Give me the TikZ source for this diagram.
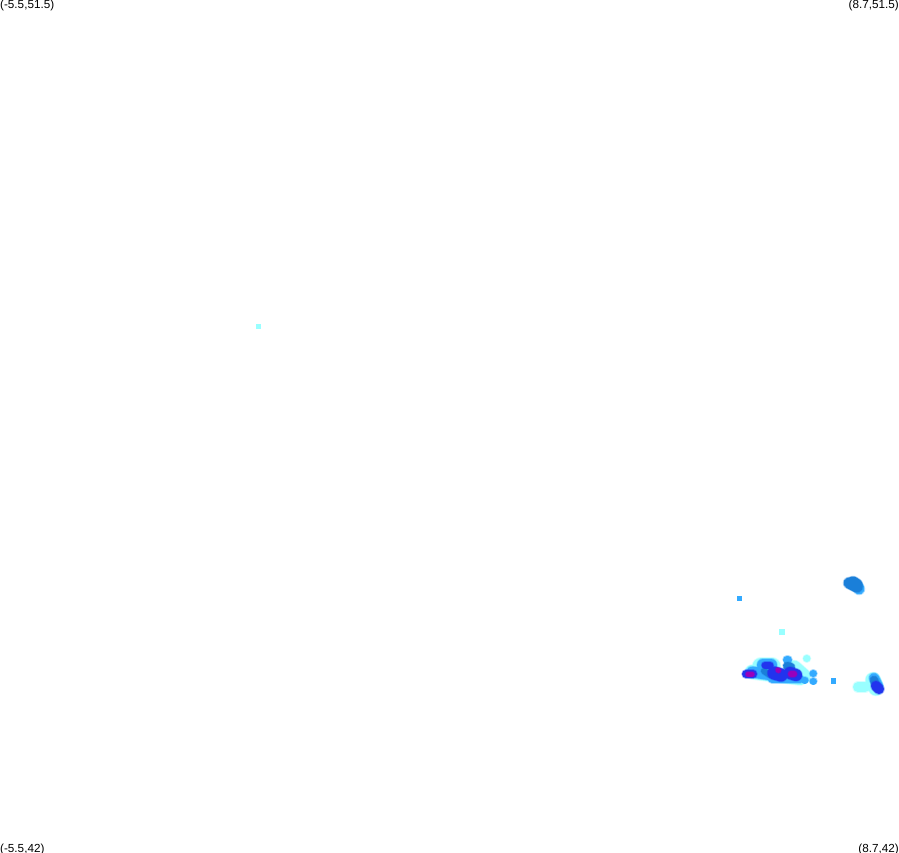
\documentclass[tikz,border=0pt]{standalone}
\usepackage{fontspec}
\setmainfont{Liberation Sans}
\definecolor{palecyan}{HTML}{99FFFF}
\definecolor{skyblue}{HTML}{33AAFF}
\definecolor{midblue}{HTML}{1A7FD9}
\definecolor{deepblue}{HTML}{2233EE}
\definecolor{plum}{HTML}{9900BB}
\begin{document}
\begin{tikzpicture}[x=1pt,y=-1pt]
    \tikzstyle{corner} = [inner sep=0pt, font=\fontsize{11.7}{12}\selectfont]
    \tikzstyle{dot} = [line cap=round, line join=round]
    \tikzstyle{speck} = [minimum size=5pt, inner sep=0pt]

    \useasboundingbox (0,0) rectangle (899,852);
    \clip (0,0) rectangle (899,852);

    % corner labels
    \node [corner, anchor=north west] (topleft) at (0,0) {(-5.5,51.5)};
    \node [corner, anchor=north east] (topright) at (899,0) {(8.7,51.5)};
    \node [corner, anchor=base west] (bottomleft) at (0,852) {(-5.5,42)};
    \node [corner, anchor=base east] (bottomright) at (899,852) {(8.7,42)};

    % lone points
    \node [speck, fill=palecyan] (farpoint) at (258,326) {};
    \node [speck, fill=skyblue] (westpoint) at (739,598) {};
    \node [speck, fill=palecyan, minimum size=6pt] (northpoint) at (781.5,631.5) {};
    \node [speck, fill=skyblue, minimum size=5.5pt] (eastpoint) at (833.5,681) {};

    % blobs, back to front: x1/y1/x2/y2/width/colour
    \foreach \xa/\ya/\xb/\yb/\w/\c in {
        858/587/859/589/11/skyblue,
        849/583/857/587/11/midblue,
        853/583/856/585/13/midblue,
        806.5/658.5/807/658.5/7/palecyan,
        794/668/803/676/15/palecyan,
        761/666/772/666/17/palecyan,
        752/672/800/678/14/palecyan,
        873/680/876/688/15/palecyan,
        858/687/865/687/10/palecyan,
        787/659.5/788/659.5/8/skyblue,
        813/673.5/813.5/673.5/7/skyblue,
        813/681/813.5/681/7/skyblue,
        804.5/680/805/680/7/skyblue,
        752/672/772/675/11/skyblue,
        772/679/800/679/8/skyblue,
        763/665/771/665/12/skyblue,
        874/678/878/686/10/skyblue,
        787/666/791/667/8/midblue,
        770/675/764/671/6/midblue,
        874/680/876/686/8/midblue,
        765/665/770/665/7/deepblue,
        774/673/781/675/13/deepblue,
        746/674/753/674/8/deepblue,
        790/673/796/675/12/deepblue,
        876/686/879/689/10/deepblue,
        748/674/752/674/5/plum,
        778/670/778.5/670.5/5/plum,
        791/674/794/674/6/plum} {
        \draw [dot, \c, opacity=.4, line width=\w pt + 1.5pt] (\xa,\ya) -- (\xb,\yb);
        \draw [dot, \c, line width=\w pt] (\xa,\ya) -- (\xb,\yb);
    }
\end{tikzpicture}
\end{document}
